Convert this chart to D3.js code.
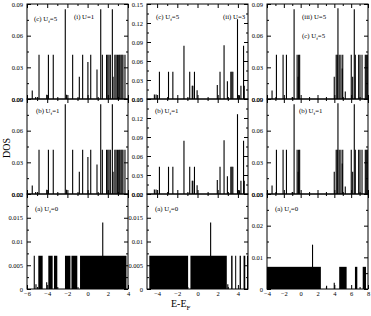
<!DOCTYPE html>
<html lang="en">
<head>
    <meta charset="UTF-8"/>
    <title>DOS panels</title>
    <script src="https://d3js.org/d3.v7.min.js"></script>
    <style>
        body { margin: 0; background: #fff; }
        text { font-family: "Liberation Serif", "Times New Roman", serif; fill: #000; }
    </style>
</head>
<body>
<div id="chart"></div>
<script>
    // peaks [E-E_F, DOS] for the upper rows; (c) U_f=5 and (b) U_f=1 look the same
    const peaksU1 = [[-5.48,0.008],[-5.14,0.002],[-4.81,0.042],[-4.05,0.004],[-3.88,0.042],[-3.40,0.042],
        [-2.21,0.085],[-2.08,0.004],[-1.48,0.042],[-0.82,0.021],[-0.49,0.042],[0.03,0.035],[0.31,0.042],
        [0.93,0.028],[1.30,0.085],[1.46,0.042],[1.88,0.042],[2.00,0.042],[2.12,0.042],[2.25,0.042],
        [2.45,0.085],[2.52,0.021],[2.70,0.042],[2.82,0.042],[2.95,0.042],[3.08,0.042],[3.18,0.042],
        [3.30,0.042],[3.40,0.042],[3.50,0.042],[3.70,0.042]];
    const peaksU3 = [[-4.27,0.007],[-4.10,0.007],[-3.77,0.043],[-2.87,0.043],[-2.44,0.043],[-1.34,0.084],
        [-0.77,0.043],[-0.52,0.021],[-0.46,0.021],[-0.30,0.043],[-0.04,0.014],[1.96,0.022],[2.23,0.043],
        [2.63,0.085],[2.96,0.028],[3.30,0.043],[3.40,0.043],[3.50,0.043],[3.96,0.126],[4.15,0.006],
        [4.30,0.021],[4.56,0.084],[4.63,0.021]];
    const peaksU5 = [[-3.40,0.008],[-2.88,0.042],[-2.09,0.042],[-1.69,0.042],[-1.00,0.002],[-0.78,0.085],
        [-0.42,0.042],[-0.30,0.021],[-0.24,0.042],[-0.12,0.042],[3.99,0.021],[4.22,0.042],[4.35,0.042],
        [4.43,0.086],[4.58,0.042],[4.78,0.042],[4.94,0.029],[5.00,0.042],[5.30,0.007],[6.01,0.042],
        [6.18,0.021],[6.37,0.085],[6.49,0.042],[6.89,0.042],[7.05,0.042],[7.29,0.042],[7.68,0.042],
        [7.80,0.042],[7.92,0.042]];

    // (a) U_f=0: stretches filled up to 0.007, plus single peaks
    const bandLevel = 0.007;
    const bandsUf0U1 = [[-4.88,-4.45],[-3.89,-3.46],[-3.33,-3.0],[-2.24,-1.7],[-1.6,-1.02],[-0.75,3.85]];
    const peaksUf0U1 = [[-5.28,0.007],[-5.11,0.001],[-4.05,0.0014],[1.50,0.014]];
    const bandsUf0U3 = [[-4.77,-0.93],[-0.7,2.9],[3.33,3.47],[3.73,3.83],[4.17,4.3],[4.56,4.73],[4.9,5.0]];
    const peaksUf0U3 = [[3.0,0.001],[1.30,0.014]];
    const bandsUf0U5 = [[-4.0,2.4],[4.58,5.46],[6.45,6.73],[7.37,7.76]];
    const peaksUf0U5 = [[1.41,0.014],[3.08,0.001],[3.99,0.002]];

    // tick labels
    const xTicksU1 = [-6, -4, -2, 0, 2, 4];
    const xTicksU3 = [-4, -2, 0, 2, 4];
    const xTicksU5 = [-4, -2, 0, 2, 4, 6, 8];
    const yTicksSmall = [0, 0.03, 0.06, 0.09];
    const yTicksLarge = [0, 0.03, 0.06, 0.09, 0.12, 0.15];
    const yTicksUf0 = [0, 0.005, 0.01, 0.015, 0.02];
    const yTicksUf0U5 = [0, 0.01, 0.02, 0.03];

    const cols = [{x0: 27, x1: 128}, {x0: 147, x1: 248}, {x0: 267, x1: 368}];
    const rows = [{y0: 4, y1: 99}, {y0: 99, y1: 194}, {y0: 194, y1: 289}];

    const svg = d3.select("#chart").append("svg")
        .attr("width", 371)
        .attr("height", 316);

    const mid = v => d3.pairs(v).map(p => (p[0] + p[1]) / 2);
    const fmt2 = d3.format(".2f");

    function panel(ci, ri, o) {
        const c = cols[ci], r = rows[ri];
        const x = d3.scaleLinear().domain(o.xDom).range([c.x0, c.x1]);
        const y = d3.scaleLinear().domain(o.yDom).range([r.y1, r.y0]);
        const g = svg.append("g");

        if (o.bands) {
            g.selectAll("rect.band").data(o.bands).join("rect")
                .attr("x", d => x(d[0]))
                .attr("width", d => x(d[1]) - x(d[0]))
                .attr("y", y(bandLevel))
                .attr("height", y(0) - y(bandLevel))
                .attr("fill", "#000");
        }
        g.selectAll("line.peak").data(o.peaks).join("line")
            .attr("x1", d => x(d[0])).attr("x2", d => x(d[0]))
            .attr("y1", y(0)).attr("y2", d => y(d[1]))
            .attr("stroke", "#000")
            .attr("stroke-width", 1.1);

        // inward ticks on all four sides
        const yMinor = mid(o.yTicks), xMinor = mid(o.xTicks);
        const ax = [
            [d3.axisLeft(y).tickValues(o.yTicks).tickFormat(o.yFmt).tickSize(-4).tickPadding(4), c.x0, 0],
            [d3.axisLeft(y).tickValues(yMinor).tickFormat("").tickSize(-2), c.x0, 0],
            [d3.axisRight(y).tickValues(o.yTicks).tickFormat("").tickSize(-4), c.x1, 0],
            [d3.axisRight(y).tickValues(yMinor).tickFormat("").tickSize(-2), c.x1, 0],
            [d3.axisTop(x).tickValues(o.xTicks).tickFormat("").tickSize(-4), 0, r.y0],
            [d3.axisTop(x).tickValues(xMinor).tickFormat("").tickSize(-2), 0, r.y0],
            [d3.axisBottom(x).tickValues(o.xTicks).tickFormat(ri === 2 ? d3.format("") : "").tickSize(-4).tickPadding(2.5), 0, r.y1],
            [d3.axisBottom(x).tickValues(xMinor).tickFormat("").tickSize(-2), 0, r.y1]
        ];
        ax.forEach(a => {
            const ag = g.append("g").attr("transform", "translate(" + a[1] + "," + a[2] + ")").call(a[0]);
            ag.attr("font-family", null).attr("font-size", 6.5);
            ag.select(".domain").remove();
            ag.selectAll("line").attr("stroke", "#000");
        });

        g.append("rect")
            .attr("x", c.x0).attr("y", r.y0)
            .attr("width", c.x1 - c.x0).attr("height", r.y1 - r.y0)
            .attr("fill", "none").attr("stroke", "#000").attr("stroke-width", 1);
    }

    const colSpec = [
        {xDom: [-6, 4], xTicks: xTicksU1, up: peaksU1, yUp: [0, 0.09], tUp: yTicksSmall,
            bands: bandsUf0U1, low: peaksUf0U1, yLow: [0, 0.02], tLow: yTicksUf0},
        {xDom: [-5, 5], xTicks: xTicksU3, up: peaksU3, yUp: [0, 0.15], tUp: yTicksLarge,
            bands: bandsUf0U3, low: peaksUf0U3, yLow: [0, 0.02], tLow: yTicksUf0},
        {xDom: [-4, 8], xTicks: xTicksU5, up: peaksU5, yUp: [0, 0.09], tUp: yTicksSmall,
            bands: bandsUf0U5, low: peaksUf0U5, yLow: [0, 0.03], tLow: yTicksUf0U5}
    ];

    colSpec.forEach((s, ci) => {
        [0, 1].forEach(ri => panel(ci, ri, {xDom: s.xDom, xTicks: s.xTicks, yDom: s.yUp,
            yTicks: s.tUp, yFmt: fmt2, peaks: s.up}));
        panel(ci, 2, {xDom: s.xDom, xTicks: s.xTicks, yDom: s.yLow, yTicks: s.tLow,
            yFmt: d => String(d), peaks: s.low, bands: s.bands});
    });

    // panel captions
    function caption(x, y, pre, sub, post) {
        const t = svg.append("text").attr("x", x).attr("y", y).attr("font-size", 6.8);
        t.append("tspan").text(pre);
        if (sub) {
            t.append("tspan").attr("dy", 1.6).attr("font-size", 5).text(sub);
            t.append("tspan").attr("dy", -1.6).text(post);
        }
    }
    caption(34, 21, "(c) U", "f", "=5");
    caption(74, 19, "(i) U=1");
    caption(156, 19, "(c) U", "f", "=5");
    caption(223, 19, "(ii) U=3");
    caption(302, 19, "(iii) U=5");
    caption(302, 38, "(c) U", "f", "=5");
    caption(36, 113, "(b) U", "f", "=1");
    caption(155, 113, "(b) U", "f", "=1");
    caption(299, 113, "(b) U", "f", "=1");
    caption(35, 211, "(a) U", "f", "=0");
    caption(155, 211, "(a) U", "f", "=0");
    caption(275, 211, "(a) U", "f", "=0");

    // axis titles
    svg.append("text")
        .attr("transform", "translate(10,148) rotate(-90)")
        .attr("text-anchor", "middle")
        .attr("font-size", 10)
        .text("DOS");
    const xt = svg.append("text")
        .attr("x", 171).attr("y", 307)
        .attr("font-size", 10);
    xt.append("tspan").text("E-E");
    xt.append("tspan").attr("dy", 2.5).attr("font-size", 7).text("F");
</script>
</body>
</html>
